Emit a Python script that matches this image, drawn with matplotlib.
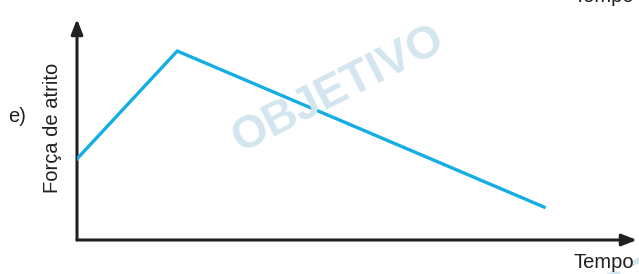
import matplotlib
matplotlib.use("Agg")
import matplotlib.pyplot as plt

plt.rcParams['font.family'] = ['Liberation Sans', 'DejaVu Sans']

# dados (unidades arbitrárias)
tempo = [0.0, 1.79, 8.34]
forca = [3.67, 8.55, 1.49]

label_y = "Força de atrito"
label_x = "Tempo"
item = "e)"

W, H = 639, 274
fig = plt.figure(figsize=(W / 100, H / 100), dpi=100)
ax = fig.add_axes([77 / W, (H - 240) / H, (637 - 77) / W, (240 - 19) / H])
ax.set_xlim(0, 10)
ax.set_ylim(0, 10)
ax.axis('off')

# marca d'agua
fig.text(338 / W, 1 - 90 / H, "OBJETIVO", rotation=27, color='#d3e6ef',
         fontsize=33, fontweight='bold', ha='center', va='center', zorder=0)
fig.text(560 / W, 1 - 262 / H, "OBJETIVO", rotation=27, color='#d3e6ef',
         fontsize=33, fontweight='bold', ha='left', va='center', zorder=0)

# eixos com setas
arrow = dict(arrowstyle='-|>,head_length=0.9,head_width=0.35', color='#231f20',
             lw=2.2, shrinkA=0, shrinkB=0)
ax.annotate('', xy=(0, 1.0), xytext=(0, 0), xycoords='axes fraction',
            arrowprops=arrow, annotation_clip=False)
ax.annotate('', xy=(1.0, 0), xytext=(0, 0), xycoords='axes fraction',
            arrowprops=arrow, annotation_clip=False)

ax.plot(tempo, forca, color='#14aee5', lw=2.4, solid_joinstyle='miter', zorder=3)

fig.text(52 / W, 1 - 128 / H, label_y, rotation=90, fontsize=14.5,
         ha='center', va='center', color='#231f20')
fig.text(604 / W, 1 - 263 / H, label_x, fontsize=14.5,
         ha='center', va='center', color='#231f20')
fig.text(604 / W, 1 + 3 / H, label_x, fontsize=14.5,
         ha='center', va='center', color='#231f20')
fig.text(17 / W, 1 - 117 / H, item, fontsize=14.5,
         ha='center', va='center', color='#231f20')

fig.savefig('out.png', dpi=100)
